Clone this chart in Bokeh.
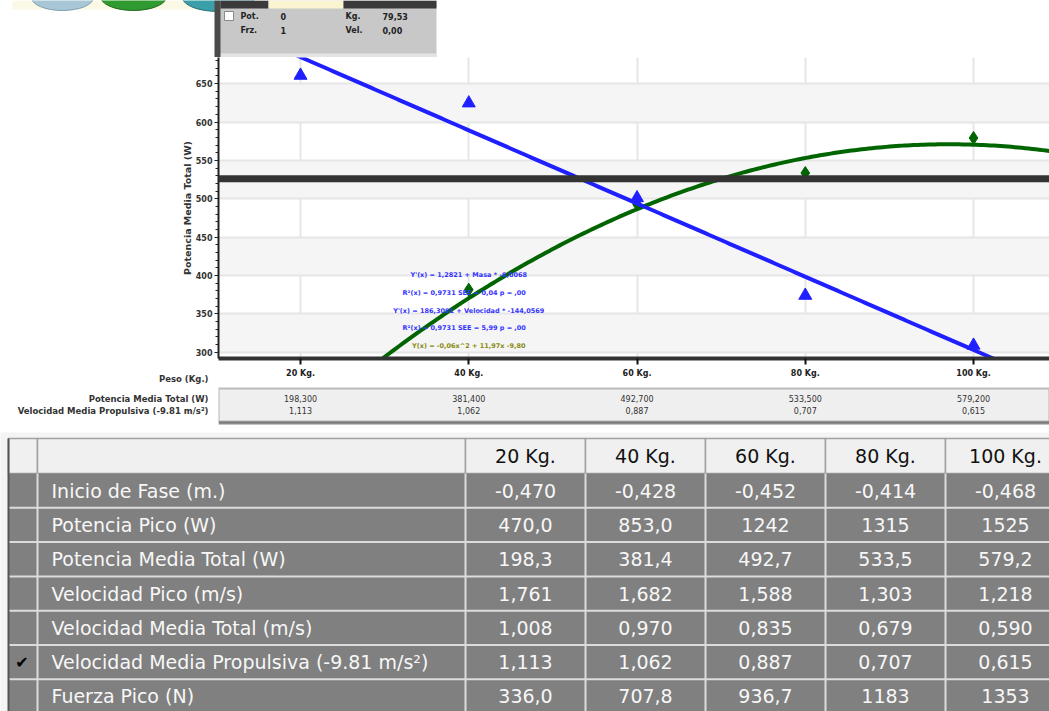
import numpy as np
from bokeh.plotting import figure
from bokeh.layouts import column
from bokeh.models import Range1d, FixedTicker, BoxAnnotation, Span
from bokeh.embed import file_html
from bokeh.resources import INLINE
from bokeh.core.properties import value

# ---------------- data ----------------
cargas = [20, 40, 60, 80, 100]
cargas_lbl = ["20 Kg.", "40 Kg.", "60 Kg.", "80 Kg.", "100 Kg."]
inicio_fase = [-0.470, -0.428, -0.452, -0.414, -0.468]
potencia_pico = [470.0, 853.0, 1242, 1315, 1525]
potencia_media = [198.3, 381.4, 492.7, 533.5, 579.2]
velocidad_pico = [1.761, 1.682, 1.588, 1.303, 1.218]
velocidad_media = [1.008, 0.970, 0.835, 0.679, 0.590]
velocidad_propulsiva = [1.113, 1.062, 0.887, 0.707, 0.615]
fuerza_pico = [336.0, 707.8, 936.7, 1183, 1353]
potencia_referencia = 526.0

filas = ["Inicio de Fase (m.)", "Potencia Pico (W)", "Potencia Media Total (W)",
         "Velocidad Pico (m/s)", "Velocidad Media Total (m/s)",
         "Velocidad Media Propulsiva (-9.81 m/s²)", "Fuerza Pico (N)"]
valores = [inicio_fase, potencia_pico, potencia_media, velocidad_pico,
           velocidad_media, velocidad_propulsiva, fuerza_pico]
fila_marcada = 5

# live readout panel
panel_pot = 0
panel_frz = 1
panel_kg = 79.53
panel_vel = 0.00

W = 1049
SMALL = "DejaVu Sans"
SMALL_V = value(SMALL)
GRID_FONT = value("DejaVu Sans")


def fmt(v, dec):
    return f"{v:.{dec}f}".replace(".", ",")


def fmt_tabla(v):
    a = abs(v)
    if a >= 1000:
        return f"{v:.0f}"
    if a >= 100:
        return fmt(v, 1)
    return fmt(v, 3)


# ---------------- regressions ----------------
x = np.array(cargas, float)
v = np.array(velocidad_propulsiva, float)
pm = np.array(potencia_media, float)
n = len(x)

b1, b0 = np.polyfit(x, v, 1)
res_v = v - (b0 + b1 * x)
r2 = 1 - (res_v ** 2).sum() / ((v - v.mean()) ** 2).sum()
see_v = np.sqrt((res_v ** 2).sum() / (n - 2))
m1, m0 = np.polyfit(v, x, 1)
res_m = x - (m0 + m1 * v)
see_m = np.sqrt((res_m ** 2).sum() / (n - 2))
qa, qb, qc = np.polyfit(x, pm, 2)

ecuaciones = [
    f"Y'(x) = {fmt(b0, 4)} + Masa * {fmt(b1, 4)}",
    f"R²(x) = {fmt(r2, 4)}   SEE = {fmt(see_v, 2)}   p = ,00",
    f"Y'(x) = {fmt(m0, 4)} + Velocidad * {fmt(m1, 4)}",
    f"R²(x) = {fmt(r2, 4)}   SEE = {fmt(see_m, 2)}   p = ,00",
    f"Y(x) = {fmt(qa, 2)}x^2 + {fmt(qb, 2)}x {fmt(qc, 2)}",
]
colores_ec = ["#3434ff", "#3434ff", "#3434ff", "#3434ff", "#8a8a10"]


def bare_fig(w, h, xr, yr):
    p = figure(width=w, height=h, x_range=xr, y_range=yr, output_backend="svg",
               toolbar_location=None, x_axis_location=None, y_axis_location=None,
               min_border_left=0, min_border_right=0, min_border_top=0, min_border_bottom=0,
               frame_align=False)
    p.outline_line_color = None
    p.xgrid.visible = False
    p.ygrid.visible = False
    return p


# ---------------- top strip: icons and readout panel ----------------
TH = 57
top = bare_fig(W, TH, Range1d(0, W), Range1d(0, TH))
top.quad(left=[12], right=[214], top=[TH], bottom=[TH - 9], fill_color="#fbf9e6", line_color=None)
top.ellipse(x=[62, 133, 218], y=[TH + 3, TH + 4, TH + 3], width=[62, 66, 72], height=[26, 28, 28],
            fill_color=["#a7c6d6", "#2f9a2f", "#3a9fa8"], line_color=["#7f9fb0", "#1f6a1f", "#2a6f78"])
top.quad(left=[216], right=[436], top=[TH], bottom=[0], fill_color="#c8c8c8", line_color=None)
top.quad(left=[216], right=[436], top=[4], bottom=[0], fill_color="#e4e4e4", line_color=None)
top.quad(left=[214], right=[220], top=[TH], bottom=[0], fill_color="#4a4a4a", line_color=None)
top.quad(left=[220, 268, 343], right=[268, 343, 436], top=[TH, TH, TH], bottom=[TH - 8, TH - 8, TH - 8],
         fill_color=["#3a3a3a", "#fbf4d0", "#3a3a3a"], line_color=None)
top.quad(left=[224], right=[233], top=[TH - 11], bottom=[TH - 20], fill_color="white", line_color="#888")
top.text(x=[240, 280, 345, 382], y=[TH - 16] * 4,
         text=["Pot.", str(panel_pot), "Kg.", fmt(panel_kg, 2)],
         text_font=SMALL_V, text_font_size="8px", text_font_style="bold",
         text_baseline="middle", text_color="#222")
top.text(x=[240, 280, 345, 382], y=[TH - 30] * 4,
         text=["Frz.", str(panel_frz), "Vel.", fmt(panel_vel, 2)],
         text_font=SMALL_V, text_font_size="8px", text_font_style="bold",
         text_baseline="middle", text_color="#222")

# ---------------- main chart ----------------
X0, X1 = 10.25, 109.03
Y0, Y1 = 291.7, 684.1
CH = 309
chart = figure(width=W, height=CH, x_range=Range1d(X0, X1), y_range=Range1d(Y0, Y1),
               output_backend="svg", toolbar_location=None,
               min_border_left=218, min_border_right=0, min_border_top=0, min_border_bottom=8)
chart.outline_line_color = None
chart.extra_y_ranges = {"vel": Range1d(0.5908, 1.1462)}

chart.ygrid.ticker = FixedTicker(ticks=list(range(300, 700, 50)))
chart.ygrid.grid_line_color = "#e6e6e6"
chart.ygrid.grid_line_width = 2
chart.ygrid.band_fill_color = "#f5f5f5"
chart.ygrid.band_fill_alpha = 1
chart.xgrid.ticker = FixedTicker(ticks=cargas)
chart.xgrid.grid_line_color = "#e6e6e6"
chart.xgrid.grid_line_width = 2

ya = chart.yaxis[0]
ya.ticker = FixedTicker(ticks=list(range(300, 700, 50)), minor_ticks=list(range(290, 690, 10)))
ya.axis_label = "Potencia Media Total (W)"
ya.axis_label_text_font = SMALL
ya.axis_label_text_font_size = "9.5px"
ya.axis_label_text_font_style = "bold"
ya.axis_label_text_color = "#333"
ya.axis_label_standoff = 0
ya.major_label_text_font = SMALL
ya.major_label_text_font_size = "8px"
ya.major_label_text_font_style = "bold"
ya.major_label_text_color = "#333"
ya.major_label_standoff = 2
ya.axis_line_width = 2
ya.axis_line_color = "#222"
ya.major_tick_in = 0
ya.major_tick_out = 4
ya.minor_tick_in = 0
ya.minor_tick_out = 3
ya.major_tick_line_color = "#222"
ya.minor_tick_line_color = "#222"

# bottom axis: line and tick marks only, weight labels sit in the strip below
xa = chart.xaxis[0]
xa.ticker = FixedTicker(ticks=[], minor_ticks=cargas)
xa.axis_line_width = 4
xa.axis_line_color = "#333"
xa.minor_tick_in = 0
xa.minor_tick_out = 6
xa.minor_tick_line_width = 2
xa.minor_tick_line_color = "#111"
xa.major_tick_line_color = None

# reference power level
chart.add_layout(Span(location=potencia_referencia, dimension="width",
                      line_color="#333333", line_width=7))

# power trend (quadratic) and points
xs = np.linspace(X0, X1, 240)
chart.line(xs, qa * xs ** 2 + qb * xs + qc, line_color="#006400", line_width=4)
chart.scatter(cargas, potencia_media, marker="diamond", size=13,
              fill_color="#006400", line_color="#006400")

# propulsive velocity trend (linear) and points on the secondary scale
chart.line(xs, b0 + b1 * xs, line_color="#1f1fff", line_width=4, y_range_name="vel")
chart.scatter(cargas, velocidad_propulsiva, marker="triangle", size=13,
              fill_color="#1f1fff", line_color="#1f1fff", y_range_name="vel")

# regression equations
chart.text(x=[40] * 5, y=[400, 376.5, 354, 331, 307.5], text=ecuaciones,
           text_font=SMALL_V, text_font_size="6.5px", text_font_style="bold",
           text_align="center", text_baseline="middle", text_color=colores_ec)

# ---------------- weight labels and values strip ----------------
SH = 432 - TH - CH
strip = figure(width=W, height=SH, x_range=chart.x_range, y_range=Range1d(0, SH),
               output_backend="svg", toolbar_location=None,
               min_border_left=218, min_border_right=0, min_border_top=0, min_border_bottom=0,
               x_axis_location=None)
strip.outline_line_color = None
strip.xgrid.visible = False
strip.ygrid.visible = False


def sy(off):
    # offset measured downward from the top of the strip
    return SH - off


ROW_PESO, ROW_POT, ROW_VEL = sy(12), sy(32), sy(44)
sa = strip.yaxis[0]
sa.ticker = FixedTicker(ticks=[ROW_PESO, ROW_POT, ROW_VEL])
sa.major_label_overrides = {ROW_PESO: "Peso (Kg.)", ROW_POT: "Potencia Media Total (W)",
                            ROW_VEL: "Velocidad Media Propulsiva (-9.81 m/s²)"}
sa.major_label_text_font = SMALL
sa.major_label_text_font_size = "8.5px"
sa.major_label_text_font_style = "bold"
sa.major_label_text_color = "#333"
sa.major_label_standoff = 4
sa.axis_line_color = None
sa.major_tick_line_color = None
sa.minor_tick_line_color = None

strip.add_layout(BoxAnnotation(bottom=sy(58), top=sy(54), fill_color="#8a8a8a", fill_alpha=1,
                               line_color=None, level="underlay"))
strip.add_layout(BoxAnnotation(bottom=sy(55), top=sy(22), fill_color="#efefef", fill_alpha=1,
                               line_color="#333", line_width=2, level="underlay"))
strip.text(x=cargas, y=[sy(7)] * 5, text=cargas_lbl, text_font=SMALL_V, text_font_size="8px",
           text_font_style="bold", text_align="center", text_baseline="middle", text_color="#222")
strip.text(x=cargas, y=[ROW_POT] * 5, text=[fmt(p, 3) for p in potencia_media],
           text_font=SMALL_V, text_font_size="8px", text_align="center",
           text_baseline="middle", text_color="#333")
strip.text(x=cargas, y=[ROW_VEL] * 5, text=[fmt(p, 3) for p in velocidad_propulsiva],
           text_font=SMALL_V, text_font_size="8px", text_align="center",
           text_baseline="middle", text_color="#333")

# ---------------- results grid ----------------
GH = 711 - 432
grid = bare_fig(W, GH, Range1d(0, W), Range1d(0, GH))
grid.background_fill_color = "#f4f4f4"


def gy(off):
    return GH - off


HDR_T, HDR_B = 6, 41
ROW_H = 34.3
SEL_L, SEL_R, LBL_R, COL_W = 8, 37, 465, 120
FS = "19px"
col_l = [LBL_R + COL_W * j for j in range(len(cargas))]
col_c = [c + COL_W / 2 for c in col_l]

# header
grid.quad(left=[SEL_L, SEL_R] + col_l, right=[SEL_R, LBL_R] + [c + COL_W for c in col_l],
          top=[gy(HDR_T)] * 7, bottom=[gy(HDR_B)] * 7,
          fill_color="#f0f0f0", line_color="#a0a0a0", line_width=1.5)
grid.text(x=col_c, y=[gy((HDR_T + HDR_B) / 2)] * 5, text=cargas_lbl, text_font=GRID_FONT,
          text_font_size=FS, text_align="center", text_baseline="middle", text_color="#111")

# body
nrows = len(filas)
body_b = HDR_B + ROW_H * nrows
grid.quad(left=[SEL_L], right=[W + 40], top=[gy(HDR_B)], bottom=[gy(body_b)],
          fill_color="#808080", line_color=None)
hl = [HDR_B + ROW_H * (i + 1) for i in range(nrows)]
grid.segment(x0=[SEL_L] * nrows, x1=[W + 40] * nrows, y0=[gy(h) for h in hl], y1=[gy(h) for h in hl],
             line_color="#dcdcdc", line_width=2)
vl = [SEL_R, LBL_R] + [c + COL_W for c in col_l]
grid.segment(x0=vl, x1=vl, y0=[gy(HDR_B)] * len(vl), y1=[gy(body_b)] * len(vl),
             line_color="#dcdcdc", line_width=2)
grid.segment(x0=[SEL_L], x1=[SEL_L], y0=[gy(HDR_T)], y1=[gy(body_b)], line_color="#555", line_width=2)

row_c = [gy(HDR_B + ROW_H * (i + 0.5)) for i in range(nrows)]
grid.text(x=[SEL_R + 14] * nrows, y=row_c, text=filas, text_font=GRID_FONT,
          text_font_size=FS, text_baseline="middle", text_color="#f7f7f7")
cx, cy, ct = [], [], []
for i, serie in enumerate(valores):
    for j, val in enumerate(serie):
        cx.append(col_c[j])
        cy.append(row_c[i])
        ct.append(fmt_tabla(val))
grid.text(x=cx, y=cy, text=ct, text_font=GRID_FONT, text_font_size=FS,
          text_align="center", text_baseline="middle", text_color="#f7f7f7")
grid.text(x=[(SEL_L + SEL_R) / 2 - 1], y=[row_c[fila_marcada]], text=["✔"], text_font=GRID_FONT,
          text_font_size="16px", text_align="center", text_baseline="middle", text_color="#000")

layout = column(top, chart, strip, grid, spacing=0)
open("out.html", "w").write(file_html(layout, INLINE))
